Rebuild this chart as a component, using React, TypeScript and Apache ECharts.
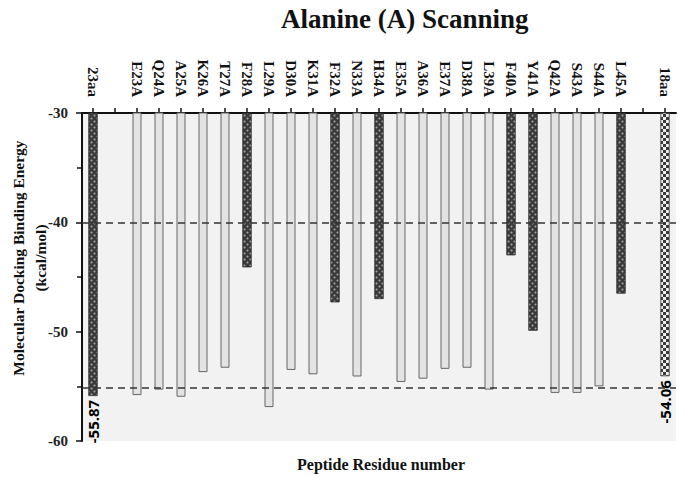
import React, { useEffect, useRef } from "react";
import * as echarts from "echarts";

const categories = [
  "23aa", "", "E23A", "Q24A", "A25A", "K26A", "T27A", "F28A", "L29A", "D30A",
  "K31A", "F32A", "N33A", "H34A", "E35A", "A36A", "E37A", "D38A", "L39A",
  "F40A", "Y41A", "Q42A", "S43A", "S44A", "L45A", "", "18aa",
];
const energies: (number | null)[] = [
  -55.87, null, -55.8, -55.3, -55.95, -53.7, -53.3, -44.1, -56.9, -53.5,
  -53.9, -47.3, -54.1, -47.0, -54.6, -54.3, -53.4, -53.3, -55.3,
  -43.0, -49.9, -55.6, -55.6, -55.0, -46.5, null, -54.06,
];
const hotSpots = ["F28A", "F32A", "H34A", "F40A", "Y41A", "L45A"];
const fullPeptide = "23aa";
const truncatedPeptide = "18aa";
const thresholds = [-40, -55.1];
const yTicks = [-60, -50, -40, -30];

const SERIF = '"Liberation Serif", "Times New Roman", serif';

export default function App() {
  const ref = useRef<HTMLDivElement>(null);
  useEffect(() => {
    if (!ref.current) return;
    const chart = echarts.init(ref.current, null, { renderer: "svg" });

    const darkStyle = {
      color: "#3a3a3a",
      borderColor: "#2a2a2a",
      borderWidth: 0.5,
      decal: {
        symbol: "circle",
        symbolSize: 0.7,
        color: "rgba(190,190,190,0.75)",
        dashArrayX: [[3, 3], [0, 3, 3, 0]],
        dashArrayY: [3, 0],
      },
    };
    const checkStyle = {
      color: "#f0f0f0",
      borderColor: "#444",
      borderWidth: 0.5,
      decal: {
        symbol: "rect",
        symbolSize: 1,
        color: "#3a3a3a",
        dashArrayX: [[2.5, 2.5], [0, 2.5, 2.5, 0]],
        dashArrayY: [2.5, 0],
      },
    };
    const lightStyle = {
      color: "#e3e3e3",
      borderColor: "#666",
      borderWidth: 1,
    };
    const valueLabel = {
      show: true,
      position: "bottom",
      distance: 4,
      rotate: 90,
      align: "right",
      verticalAlign: "middle",
      fontFamily: '"Open Sans", "Noto Sans", sans-serif',
      fontWeight: "bold",
      fontSize: 15,
      color: "#000",
      formatter: (p: any) => p.value.toFixed(2),
    };

    const data = categories.map((c, i) => {
      const v = energies[i];
      if (v === null) return "-";
      if (c === fullPeptide) return { value: v, itemStyle: darkStyle, label: valueLabel };
      if (c === truncatedPeptide) return { value: v, itemStyle: checkStyle, label: valueLabel };
      if (hotSpots.includes(c)) return { value: v, itemStyle: darkStyle };
      return { value: v, itemStyle: lightStyle };
    });

    chart.setOption({
      animation: false,
      title: {
        text: "Alanine (A) Scanning",
        left: 276,
        top: 0,
        textStyle: { fontFamily: SERIF, fontWeight: "bold", fontSize: 27, color: "#111" },
      },
      grid: {
        left: 82,
        top: 113,
        right: 9,
        bottom: 36,
        show: true,
        backgroundColor: "#f2f2f2",
        borderWidth: 0,
      },
      xAxis: {
        type: "category",
        data: categories,
        position: "top",
        axisLine: { show: true, lineStyle: { color: "#111", width: 2 } },
        axisTick: { show: true, alignWithLabel: true, interval: 0, length: 5, lineStyle: { color: "#111", width: 1.5 } },
        axisLabel: {
          interval: 0,
          rotate: 90,
          margin: 16,
          fontFamily: SERIF,
          fontWeight: "bold",
          fontSize: 15,
          color: "#111",
        },
        splitLine: { show: false },
      },
      yAxis: {
        type: "value",
        min: yTicks[0],
        max: yTicks[yTicks.length - 1],
        interval: 10,
        axisLine: { show: true, lineStyle: { color: "#111", width: 2 } },
        axisTick: { show: true, length: 6, lineStyle: { color: "#111", width: 1.5 } },
        minorTick: { show: true, splitNumber: 2, length: 5, lineStyle: { color: "#111", width: 1.5 } },
        axisLabel: {
          margin: 14,
          fontFamily: SERIF,
          fontWeight: "bold",
          fontSize: 15,
          color: "#222",
        },
        splitLine: { show: false },
      },
      series: [
        {
          type: "bar",
          data,
          barWidth: 9,
          clip: true,
          markLine: {
            silent: true,
            symbol: "none",
            label: { show: false },
            lineStyle: { type: [7, 5], color: "#333", width: 1.5 },
            data: thresholds.map((t) => ({ yAxis: t })),
          },
        },
      ],
      graphic: [
        {
          type: "text",
          x: 29,
          y: 258,
          rotation: Math.PI / 2,
          style: {
            text: "Molecular Docking Binding Energy\n(kcal/mol)",
            align: "center",
            verticalAlign: "middle",
            lineHeight: 22,
            font: `bold 15.5px ${SERIF}`,
            fill: "#111",
          },
        },
        {
          type: "text",
          x: 381,
          y: 464,
          style: {
            text: "Peptide Residue number",
            align: "center",
            verticalAlign: "middle",
            font: `bold 16px ${SERIF}`,
            fill: "#111",
          },
        },
      ],
    });
    return () => chart.dispose();
  }, []);
  return (
    <div
      ref={ref}
      style={{ position: "absolute", left: 0, top: 0, width: 685, height: 477 }}
    />
  );
}
